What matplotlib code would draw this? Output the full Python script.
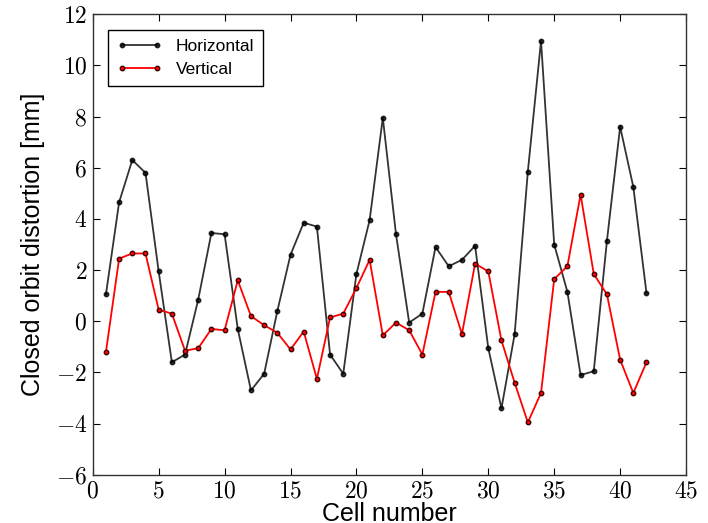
import numpy as np
import matplotlib
matplotlib.use("Agg")
import matplotlib.pyplot as plt

### ---Data
cells = np.arange(1, 43)
horizontal = [1.05, 4.65, 6.3, 5.8, 1.95, -1.6, -1.3, 0.85, 3.45, 3.4,
              -0.3, -2.7, -2.05, 0.4, 2.6, 3.85, 3.7, -1.3, -2.05, 1.85,
              3.95, 7.95, 3.4, -0.05, 0.3, 2.9, 2.15, 2.4, 2.95, -1.05,
              -3.4, -0.5, 5.85, 10.95, 3.0, 1.15, -2.1, -1.95, 3.15, 7.6,
              5.25, 1.1]
vertical = [-1.2, 2.45, 2.65, 2.65, 0.45, 0.3, -1.15, -1.05, -0.3, -0.35,
            1.6, 0.2, -0.15, -0.45, -1.1, -0.4, -2.25, 0.15, 0.3, 1.3,
            2.4, -0.55, -0.05, -0.35, -1.3, 1.15, 1.15, -0.5, 2.25, 1.95,
            -0.75, -2.4, -3.95, -2.8, 1.65, 2.15, 4.95, 1.85, 1.05, -1.5,
            -2.8, -1.6]

### ---Style
plt.rcParams['mathtext.fontset'] = 'cm'
plt.rcParams['font.family'] = ['Liberation Sans', 'DejaVu Sans']

fig = plt.figure(figsize=(7.08, 5.23), dpi=100)
ax = fig.add_axes([0.131, 0.092, 0.838, 0.881])

ax.plot(cells, horizontal, '-o', color='black', alpha=0.8, lw=1.3,
        ms=3.2, mfc='black', mec='black', label='Horizontal')
ax.plot(cells, vertical, '-o', color='red', lw=1.3,
        ms=3.2, mfc='red', mec='#400000', label='Vertical')

ax.set_xlim(0, 45)
ax.set_ylim(-6, 12)
ax.set_xticks(np.arange(0, 46, 5))
ax.set_yticks(np.arange(-6, 13, 2))
ax.set_xticklabels([r'$%d$' % v for v in np.arange(0, 46, 5)])
ax.set_yticklabels([r'$%d$' % v for v in np.arange(-6, 13, 2)])
ax.tick_params(direction='in', top=True, right=True, length=5,
               labelsize=17, pad=4)
for s in ax.spines.values():
    s.set_linewidth(1.0)
    s.set_color('#333333')

ax.set_xlabel('Cell number', fontsize=18, labelpad=0)
ax.set_ylabel('Closed orbit distortion [mm]', fontsize=18, labelpad=8)

leg = ax.legend(loc='upper left', numpoints=2, fancybox=False,
                fontsize=12.5, framealpha=1, borderpad=0.5,
                borderaxespad=0.9, handlelength=2.6, edgecolor='black')
leg.get_frame().set_linewidth(1.0)

plt.savefig('out.png', dpi=100)
